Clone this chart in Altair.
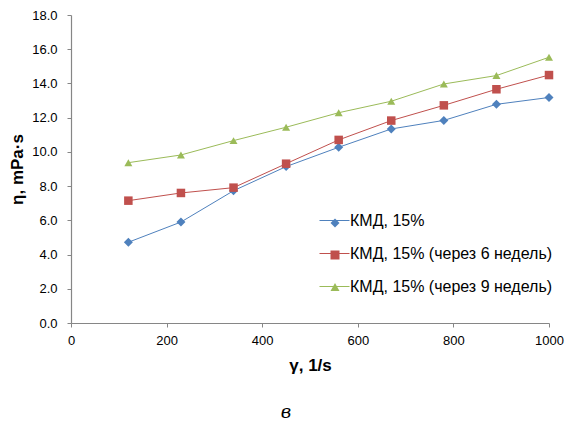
import altair as alt
import pandas as pd

# Shear rate (1/s) and dynamic viscosity (mPa·s) for the three samples
shear_rate = [120, 230, 340, 450, 560, 670, 780, 890, 1000]
visc_fresh = [4.72, 5.9, 7.73, 9.14, 10.27, 11.34, 11.84, 12.78, 13.18]
visc_6_weeks = [7.15, 7.6, 7.91, 9.31, 10.7, 11.83, 12.72, 13.66, 14.49]
visc_9_weeks = [9.37, 9.82, 10.66, 11.44, 12.29, 12.96, 13.97, 14.46, 15.53]

series_names = [
    "КМД, 15%",
    "КМД, 15% (через 6 недель)",
    "КМД, 15% (через 9 недель)",
]
series_colors = ["#4F81BD", "#C0504D", "#9BBB59"]
series_shapes = ["diamond", "square", "triangle-up"]
series_sizes = [81, 64, 100]

x_ticks = [0, 200, 400, 600, 800, 1000]
y_ticks = [0, 2, 4, 6, 8, 10, 12, 14, 16, 18]

rows = []
for name, values in zip(series_names, [visc_fresh, visc_6_weeks, visc_9_weeks]):
    for g, eta in zip(shear_rate, values):
        rows.append({"gamma": g, "eta": eta, "series": name})
df = pd.DataFrame(rows)

FONT = "Liberation Sans"

x_enc = alt.X(
    "gamma:Q",
    scale=alt.Scale(domain=[0, 1000], nice=False),
    axis=alt.Axis(
        values=x_ticks, format="d", title="γ, 1/s", labelFlush=False,
        labelPadding=7, titlePadding=10,
    ),
)
y_enc = alt.Y(
    "eta:Q",
    scale=alt.Scale(domain=[0, 18], nice=False),
    axis=alt.Axis(
        values=y_ticks, format=".1f", title="η, mPa·s",
        labelPadding=10, titlePadding=5,
    ),
)

legend_common = dict(
    title=None, orient="none", padding=0, labelLimit=400,
    labelFont=FONT, labelFontSize=16, labelColor="black",
)

# Line samples of the legend (the labels live here)
lines = alt.Chart(df).mark_line(strokeWidth=1).encode(
    x=x_enc,
    y=y_enc,
    color=alt.Color(
        "series:N",
        sort=series_names,
        scale=alt.Scale(domain=series_names, range=series_colors),
        legend=alt.Legend(
            legendX=248, legendY=190, rowPadding=9,
            symbolType="stroke", symbolSize=900, symbolStrokeWidth=1,
            labelOffset=0, **legend_common,
        ),
    ),
)

# Marker samples drawn on top of the line samples, without labels of their own
point_legend = alt.Legend(
    legendX=256, legendY=200, rowPadding=16,
    symbolSize=81, labelExpr="''", labelOffset=0,
    **legend_common,
)
points = alt.Chart(df).mark_point(filled=True, opacity=1).encode(
    x=x_enc,
    y=y_enc,
    color=alt.Color(
        "series:N",
        sort=series_names,
        scale=alt.Scale(domain=series_names, range=series_colors),
        legend=point_legend,
    ),
    shape=alt.Shape(
        "series:N",
        sort=series_names,
        scale=alt.Scale(domain=series_names, range=series_shapes),
        legend=point_legend,
    ),
    size=alt.Size(
        "series:N",
        scale=alt.Scale(domain=series_names, range=series_sizes),
        legend=None,
    ),
)

chart = (
    alt.layer(lines, points)
    .resolve_scale(color="independent", shape="independent")
    .resolve_legend(color="independent")
    .properties(
        width=478,
        height=308,
        autosize=alt.AutoSizeParams(type="none"),
        padding={"left": 71, "top": 15, "right": 18, "bottom": 105},
        background="white",
        title=alt.TitleParams(
            "в", orient="bottom", anchor="middle", frame="bounds",
            font="DejaVu Serif", fontStyle="italic", fontWeight="normal",
            fontSize=18, color="black", offset=31,
        ),
    )
    .configure_view(stroke=None)
    .configure_axis(
        grid=False,
        domainColor="#868686",
        domainWidth=1.2,
        tickColor="#868686",
        tickSize=4,
        labelFont=FONT,
        labelFontSize=13,
        labelColor="black",
        titleFont=FONT,
        titleFontSize=17,
        titleFontWeight="bold",
        titleColor="black",
    )
)

chart.save("out.html", embed_options={"renderer": "svg", "actions": False})
